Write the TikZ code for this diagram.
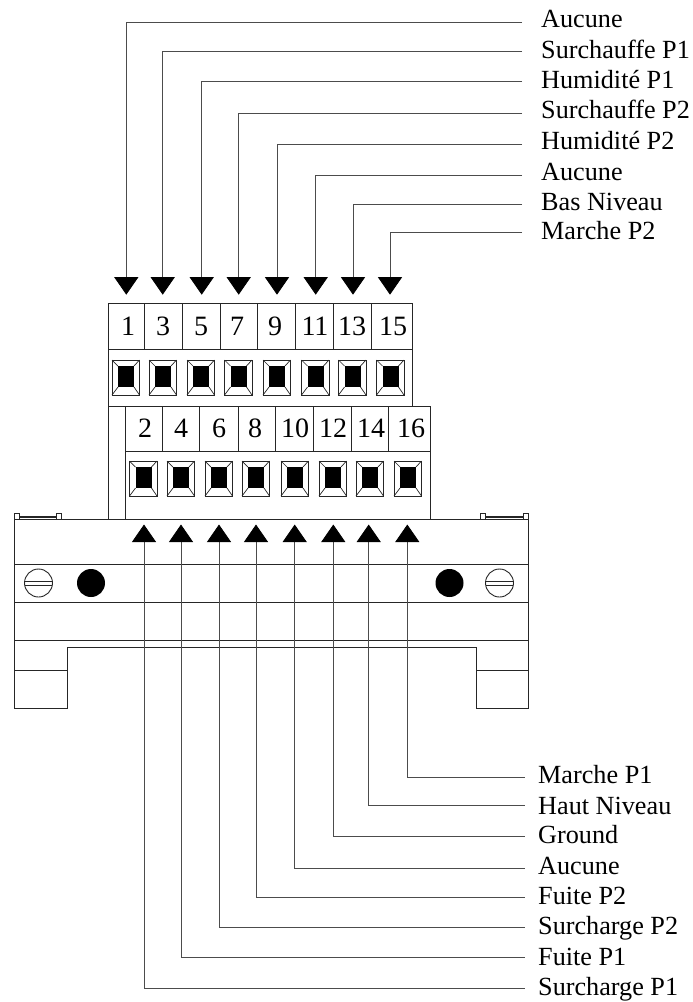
\documentclass[tikz,border=0pt]{standalone}
\usepackage{fontspec}
\setmainfont{Liberation Serif}
\usepackage{tikz}
\usetikzlibrary{arrows.meta}

\tikzset{
  casing/.style={draw=black!85, line width=0.9pt},
  thincase/.style={draw=black!85, line width=0.7pt},
  wire/.style={draw=black!70, line width=0.9pt, -{Triangle[width=24pt,length=17.5pt,black]}},
  lab/.style={anchor=base west, inner sep=0pt, font=\fontsize{26.2}{29}\selectfont},
  num/.style={inner sep=0pt, font=\fontsize{28}{31}\selectfont},
}

% one terminal screw, #1 = left edge, #2 = top edge
\newcommand{\termscrew}[2]{%
  \draw[casing] (#1,#2) rectangle ++(27.5,35);
  \fill[black] (#1+6,#2+6) rectangle ++(16,21);
  \draw[thincase] (#1,#2) -- ++(6,6);
  \draw[thincase] (#1+27.5,#2) -- ++(-5.5,6);
  \draw[thincase] (#1,#2+35) -- ++(6,-8);
  \draw[thincase] (#1+27.5,#2+35) -- ++(-5.5,-8);
}
% slotted screw head
\newcommand{\slotscrew}[1]{%
  \draw[casing] (#1,583) circle (14);
  \draw[casing] (#1-13.6,581) -- ++(27.2,0);
  \draw[casing] (#1-13.6,585) -- ++(27.2,0);
}

\begin{document}
\begin{tikzpicture}[x=1pt, y=-1pt]
  \useasboundingbox (0,0) rectangle (693,1002);

  % upper block
  \draw[casing] (108,303) rectangle (412,406);
  \draw[casing] (108,349) -- (412,349);
  \foreach \x in {144.5,182,220,257,295,333,371}
    \draw[casing] (\x,303) -- (\x,349);
  \foreach \x/\n in {128/1,163/3,201/5,237/7,275/9,315/11,352/13,393/15}
    \node[num] (n\n) at (\x,326) {\n};
  \foreach \x in {112,149,187,224.5,263,301.5,338.5,376.5}
    {\termscrew{\x}{360}}

  % lower block
  \draw[casing] (108,406) -- (108,519);
  \draw[casing] (125,406) rectangle (430.5,519);
  \draw[casing] (125,451) -- (430.5,451);
  \foreach \x in {162.5,199.5,238,275,313.5,351,388.5}
    \draw[casing] (\x,406) -- (\x,451);
  \foreach \x/\n in {145/2,181/4,219/6,255/8,295/10,333/12,371/14,411/16}
    \node[num] (n\n) at (\x,428) {\n};
  \foreach \x in {129.5,167,205,242,281,319,356,394}
    {\termscrew{\x}{461}}

  % base
  \draw[casing] (14,708) -- (14,519) -- (528,519) -- (528,708) -- (476,708) -- (476,647.5)
    -- (67.5,647.5) -- (67.5,708) -- cycle;
  \draw[casing] (14,564) -- (528,564);
  \draw[casing] (14,602.5) -- (528,602.5);
  \draw[casing] (14,640) -- (528,640);
  \draw[casing] (14,670) -- (67.5,670);
  \draw[casing] (476,670) -- (528,670);

  % clips on top of the base
  \foreach \x in {14,56.5,480,523}
    \draw[thincase] (\x,519) rectangle ++(5,-6);
  \draw[thincase] (19,517.5) -- (56.5,517.5) (19,516) -- (56.5,516);
  \draw[thincase] (485,517.5) -- (523,517.5) (485,516) -- (523,516);

  % fixing screws
  \slotscrew{38.5}
  \slotscrew{499.5}
  \fill[black] (91,583) circle (14);
  \fill[black] (449.5,583) circle (14);

  % top labels
  \foreach \b/\y/\x/\n/\t in {27/22.7/126.3/1/Aucune,58/51.7/162.7/3/Surchauffe P1,
      88/81.7/201.7/5/Humidité P1,118/113/238.7/7/Surchauffe P2,149/144/277/9/Humidité P2,
      180/175/315.7/11/Aucune,210/204/353/13/Bas Niveau,239/232.7/390/15/Marche P2}{
    \node[lab] (l\n) at (541,\b) {\t};
    \coordinate (s\n) at (522,\y);
    \coordinate (t\n) at (\x,294.7);
    \draw[wire] (s\n) -| (t\n);
  }

  % bottom labels
  \foreach \b/\y/\x/\n/\t in {783/777/407.3/16/Marche P1,814/805.7/368.7/14/Haut Niveau,
      843/836.7/333.3/12/Ground,874/868.3/294.7/10/Aucune,904/897.7/256/8/Fuite P2,
      934/927.7/219/6/Surcharge P2,965/957.7/181/4/Fuite P1,995/988.3/144/2/Surcharge P1}{
    \node[lab] (l\n) at (538,\b) {\t};
    \coordinate (s\n) at (524.5,\y);
    \coordinate (t\n) at (\x,524.5);
    \draw[wire] (s\n) -| (t\n);
  }
\end{tikzpicture}
\end{document}
